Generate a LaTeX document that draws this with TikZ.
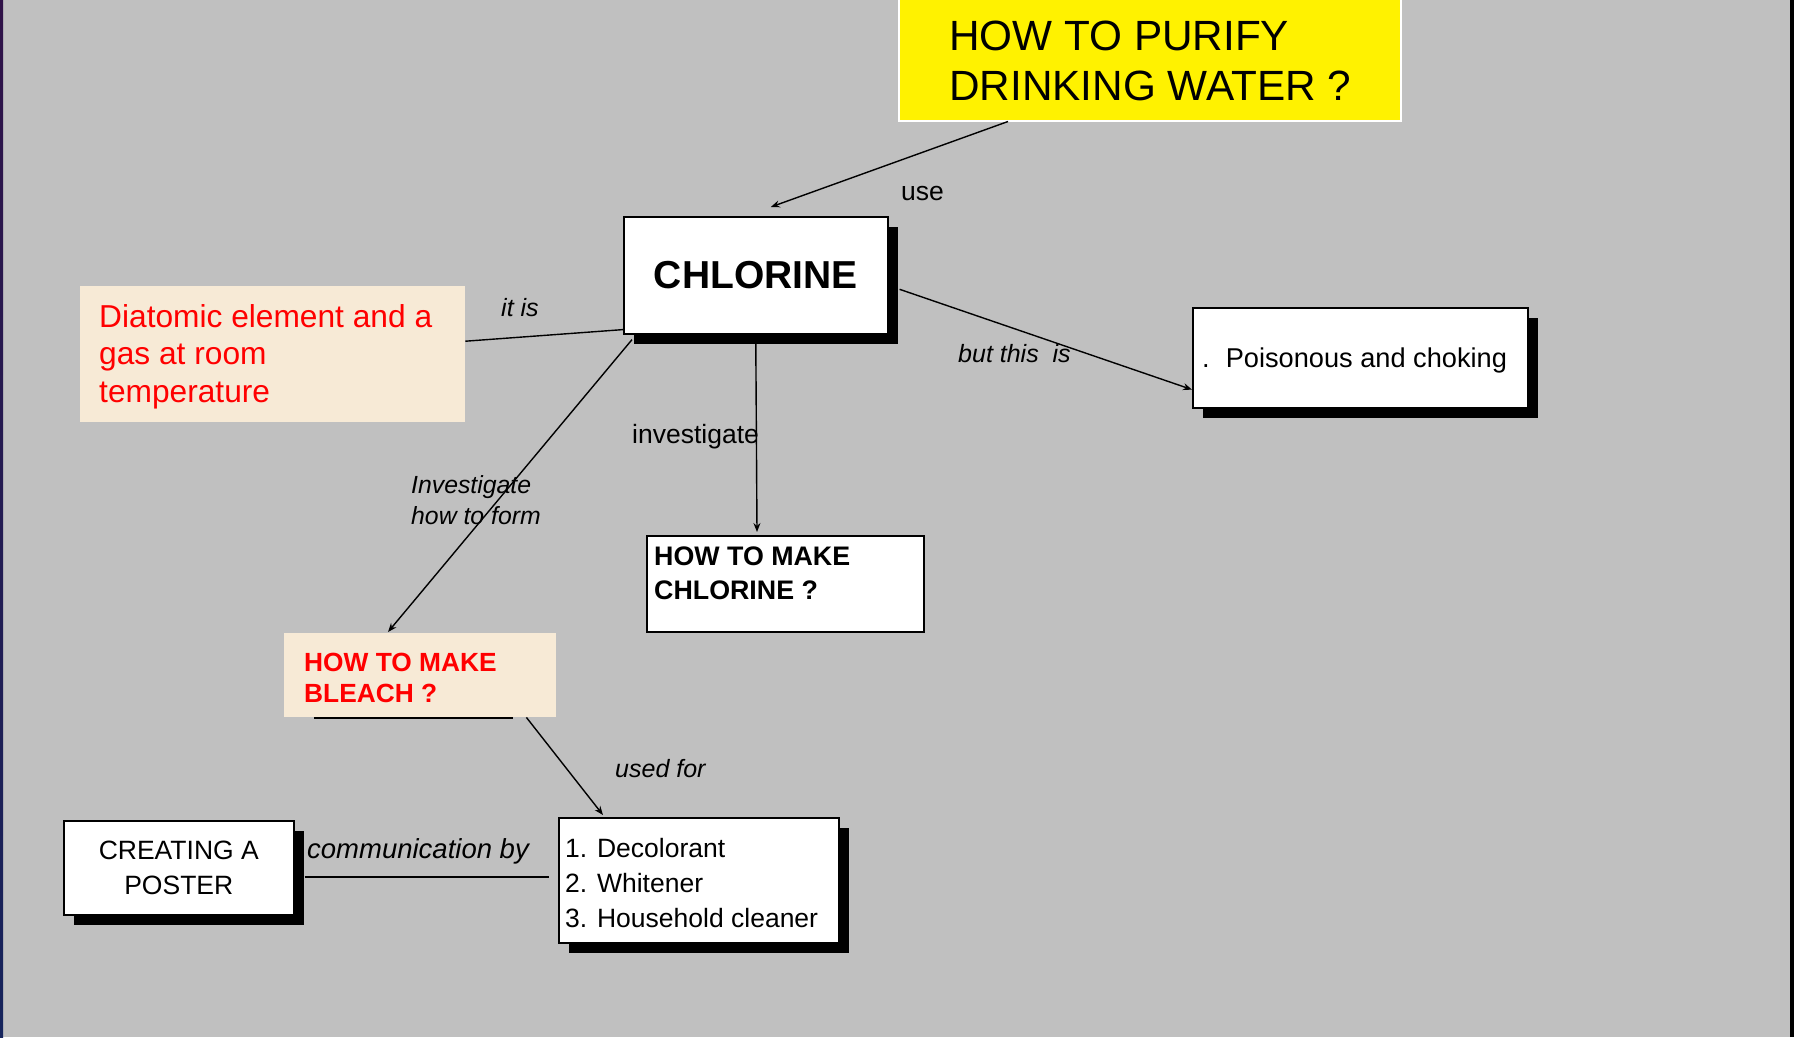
\documentclass[tikz,border=0pt]{standalone}
\usepackage{fontspec}
\setmainfont{Liberation Sans}
\usetikzlibrary{arrows.meta,calc,shadows}

\definecolor{slidegray}{RGB}{192,192,192}
\definecolor{notebeige}{RGB}{247,234,214}
\definecolor{edgetop}{RGB}{48,18,72}
\definecolor{edgebottom}{RGB}{22,36,92}

\newcommand{\fsz}[2]{\fontsize{#1}{#2}\selectfont}

\begin{document}
\begin{tikzpicture}[x=1pt,y=-1pt,
  box/.style={draw=black, line width=1.6pt, fill=white, inner sep=0pt, anchor=north west},
  shadowed/.style={box, drop shadow={shadow xshift=10pt, shadow yshift=-10pt, fill=black, opacity=1}},
  note/.style={fill=notebeige, inner sep=0pt, anchor=north west},
  txt/.style={inner sep=0pt, anchor=base west},
  link/.style={line width=1.4pt, draw=black},
  arr/.style={link, -{Stealth[length=9pt,width=7pt,inset=3pt]}},
  lab/.style={txt, font=\fsz{25}{30}\itshape},
]
\useasboundingbox (0,0) rectangle (1794,1037);

% slide background and its edges
\fill[slidegray] (0,0) rectangle (1794,1037);
\shade[top color=edgetop, bottom color=edgebottom] (0,0) rectangle (3,1037);
\fill[black] (1790,0) rectangle (1794,1037);

% title box
\node[draw=white, line width=1.5pt, fill=yellow, minimum width=502pt, minimum height=122pt,
      inner sep=0pt, anchor=north west] (yel) at (898,-2) {};
\node[txt, font=\fsz{42.3}{50}] (yelT) at (949,50)
  {\parbox[t]{440pt}{HOW TO PURIFY\\DRINKING WATER ?}};

% central concept
\node[shadowed, minimum width=264pt, minimum height=117pt, font=\fsz{39}{47}\bfseries]
  (chl) at (623,216) {CHLORINE};

% property note
\node[note, minimum width=385pt, minimum height=136pt] (dia) at (80,286) {};
\node[txt, text=red, font=\fsz{31.7}{37.5}] (diaT) at (99,327)
  {\parbox[t]{360pt}{Diatomic element and a\\gas at room\\temperature}};

% making chlorine
\node[box, minimum width=277pt, minimum height=96pt] (mk) at (646,535) {};
\node[txt, font=\fsz{26.8}{34}\bfseries] (mkT) at (654,565)
  {\parbox[t]{260pt}{HOW TO MAKE\\CHLORINE ?}};

% making bleach
\node[note, minimum width=272pt, minimum height=84pt] (bl) at (284,633) {};
\node[txt, text=red, font=\fsz{26.3}{31}\bfseries] (blT) at (304,671)
  {\parbox[t]{240pt}{HOW TO MAKE\\BLEACH ?}};
\draw[line width=2pt] ($(bl.south west)+(30,1)$) -- ($(bl.south east)+(-43,1)$);

% hazard
\node[shadowed, minimum width=335pt, minimum height=100pt] (poi) at (1192,307) {};
\node[txt, font=\fsz{27.2}{32}] (poiT) at (1202,367) {.\hspace{16pt}Poisonous and choking};

% uses of bleach
\node[shadowed, minimum width=280pt, minimum height=125pt] (lst) at (558,817) {};
\node[txt, font=\fsz{26.5}{35}] (lstT) at (565,857)
  {\parbox[t]{270pt}{1. Decolorant\\2. Whitener\\3. Household cleaner}};

% poster
\node[shadowed, minimum width=230pt, minimum height=94pt, align=center, font=\fsz{26.5}{35}]
  (cre) at (63,820) {CREATING A\\POSTER};

% connectors
\draw[arr] ($(yel.south west)+(110,0)$) -- ($(chl.north)+(15,-9)$);
\draw[link] ($(dia.east)+(0,-13)$) -- ($(chl.south west)+(0,-5)$);
\draw[arr] ($(chl.south west)+(9,5)$) -- ($(bl.north west)+(104,-1)$);
\draw[arr] ($(chl.south)+(0,9)$) -- ($(mk.north west)+(111,-3)$);
\draw[arr] ($(chl.east)+(11,14)$) -- ($(poi.south west)+(0,-19)$);
\draw[arr] ($(bl.south east)+(-30,0)$) -- ($(lst.north west)+(45,-2)$);
\draw[link] ($(cre.east)+(10,9)$) -- ($(lst.west)+(-9,-3.5)$);

% connector labels
\node[txt, font=\fsz{26.5}{30}] (lUse) at (901,200) {use};
\node[lab] (lIt) at (501,316) {it is};
\node[txt, font=\fsz{24.8}{31}\itshape] (lForm) at (411,493)
  {\parbox[t]{200pt}{Investigate\\how to form}};
\node[txt, font=\fsz{26.5}{30}] (lInv) at (632,443) {investigate};
\node[lab] (lBut) at (958,362) {but this\ \ is};
\node[lab] (lUsed) at (615,777) {used for};
\node[txt, font=\fsz{27.5}{30}\itshape] (lCom) at (307,858) {communication by};
\end{tikzpicture}
\end{document}
